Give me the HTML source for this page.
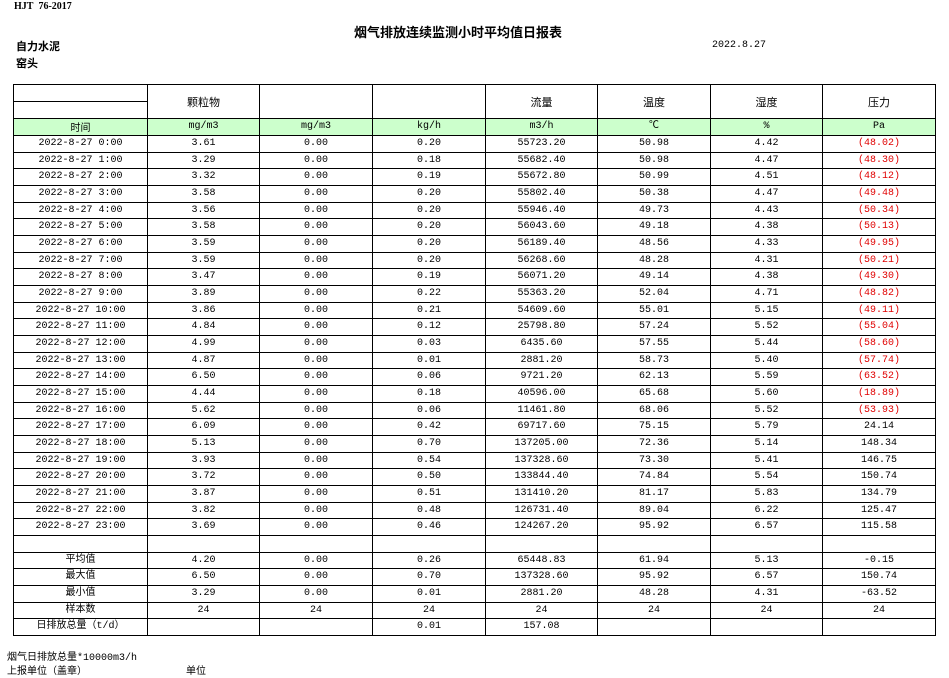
<!DOCTYPE html>
<html><head><meta charset="utf-8"><style>
body{margin:0;width:949px;height:676px;background:#fff;position:relative;overflow:hidden;font-family:"Liberation Mono","Noto Sans CJK SC",monospace;font-size:10px;color:#000}
.a{position:absolute;white-space:nowrap}
table{position:absolute;left:13px;top:84px;border-collapse:collapse;table-layout:fixed}
td{border:1px solid #000;padding:0;text-align:center;font-size:10px;line-height:10px;overflow:hidden;white-space:nowrap}
tr.g td{background:#ccffcc}
.r{color:#e00000}
.h td{font-family:"Noto Sans CJK SC",sans-serif;font-size:11px}
</style></head><body>
<div class="a" style="left:14px;top:1px;font-weight:bold;font-family:'Liberation Serif',serif;font-size:10px">HJT&nbsp;&nbsp;76-2017</div>
<div class="a" style="left:354px;top:22px;font-weight:bold;font-size:13px;font-family:'Noto Sans CJK SC',sans-serif">烟气排放连续监测小时平均值日报表</div>
<div class="a" style="left:16px;top:38px;font-weight:bold;font-size:11px;font-family:'Noto Sans CJK SC',sans-serif">自力水泥</div>
<div class="a" style="left:16px;top:55px;font-weight:bold;font-size:11px;font-family:'Noto Sans CJK SC',sans-serif">窑头</div>
<div class="a" style="left:712px;top:40px">2022.8.27</div>
<table>
<colgroup><col style="width:134px"><col style="width:112px"><col style="width:113px"><col style="width:113px"><col style="width:112px"><col style="width:113px"><col style="width:112px"><col style="width:113px"></colgroup>
<tr class="h" style="height:17px"><td></td><td rowspan="2">颗粒物</td><td rowspan="2"></td><td rowspan="2"></td><td rowspan="2">流量</td><td rowspan="2">温度</td><td rowspan="2">湿度</td><td rowspan="2">压力</td></tr>
<tr style="height:17px"><td></td></tr>
<tr class="g" style="height:17px"><td style="font-family:'Noto Sans CJK SC',sans-serif">时间</td><td>mg/m3</td><td>mg/m3</td><td>kg/h</td><td>m3/h</td><td>℃</td><td>%</td><td>Pa</td></tr>
<tr style="height:17px"><td>2022-8-27 0:00</td><td>3.61</td><td>0.00</td><td>0.20</td><td>55723.20</td><td>50.98</td><td>4.42</td><td class="r">(48.02)</td></tr>
<tr style="height:16px"><td>2022-8-27 1:00</td><td>3.29</td><td>0.00</td><td>0.18</td><td>55682.40</td><td>50.98</td><td>4.47</td><td class="r">(48.30)</td></tr>
<tr style="height:17px"><td>2022-8-27 2:00</td><td>3.32</td><td>0.00</td><td>0.19</td><td>55672.80</td><td>50.99</td><td>4.51</td><td class="r">(48.12)</td></tr>
<tr style="height:17px"><td>2022-8-27 3:00</td><td>3.58</td><td>0.00</td><td>0.20</td><td>55802.40</td><td>50.38</td><td>4.47</td><td class="r">(49.48)</td></tr>
<tr style="height:16px"><td>2022-8-27 4:00</td><td>3.56</td><td>0.00</td><td>0.20</td><td>55946.40</td><td>49.73</td><td>4.43</td><td class="r">(50.34)</td></tr>
<tr style="height:17px"><td>2022-8-27 5:00</td><td>3.58</td><td>0.00</td><td>0.20</td><td>56043.60</td><td>49.18</td><td>4.38</td><td class="r">(50.13)</td></tr>
<tr style="height:17px"><td>2022-8-27 6:00</td><td>3.59</td><td>0.00</td><td>0.20</td><td>56189.40</td><td>48.56</td><td>4.33</td><td class="r">(49.95)</td></tr>
<tr style="height:16px"><td>2022-8-27 7:00</td><td>3.59</td><td>0.00</td><td>0.20</td><td>56268.60</td><td>48.28</td><td>4.31</td><td class="r">(50.21)</td></tr>
<tr style="height:17px"><td>2022-8-27 8:00</td><td>3.47</td><td>0.00</td><td>0.19</td><td>56071.20</td><td>49.14</td><td>4.38</td><td class="r">(49.30)</td></tr>
<tr style="height:17px"><td>2022-8-27 9:00</td><td>3.89</td><td>0.00</td><td>0.22</td><td>55363.20</td><td>52.04</td><td>4.71</td><td class="r">(48.82)</td></tr>
<tr style="height:16px"><td>2022-8-27 10:00</td><td>3.86</td><td>0.00</td><td>0.21</td><td>54609.60</td><td>55.01</td><td>5.15</td><td class="r">(49.11)</td></tr>
<tr style="height:17px"><td>2022-8-27 11:00</td><td>4.84</td><td>0.00</td><td>0.12</td><td>25798.80</td><td>57.24</td><td>5.52</td><td class="r">(55.04)</td></tr>
<tr style="height:17px"><td>2022-8-27 12:00</td><td>4.99</td><td>0.00</td><td>0.03</td><td>6435.60</td><td>57.55</td><td>5.44</td><td class="r">(58.60)</td></tr>
<tr style="height:16px"><td>2022-8-27 13:00</td><td>4.87</td><td>0.00</td><td>0.01</td><td>2881.20</td><td>58.73</td><td>5.40</td><td class="r">(57.74)</td></tr>
<tr style="height:17px"><td>2022-8-27 14:00</td><td>6.50</td><td>0.00</td><td>0.06</td><td>9721.20</td><td>62.13</td><td>5.59</td><td class="r">(63.52)</td></tr>
<tr style="height:17px"><td>2022-8-27 15:00</td><td>4.44</td><td>0.00</td><td>0.18</td><td>40596.00</td><td>65.68</td><td>5.60</td><td class="r">(18.89)</td></tr>
<tr style="height:16px"><td>2022-8-27 16:00</td><td>5.62</td><td>0.00</td><td>0.06</td><td>11461.80</td><td>68.06</td><td>5.52</td><td class="r">(53.93)</td></tr>
<tr style="height:17px"><td>2022-8-27 17:00</td><td>6.09</td><td>0.00</td><td>0.42</td><td>69717.60</td><td>75.15</td><td>5.79</td><td>24.14</td></tr>
<tr style="height:17px"><td>2022-8-27 18:00</td><td>5.13</td><td>0.00</td><td>0.70</td><td>137205.00</td><td>72.36</td><td>5.14</td><td>148.34</td></tr>
<tr style="height:16px"><td>2022-8-27 19:00</td><td>3.93</td><td>0.00</td><td>0.54</td><td>137328.60</td><td>73.30</td><td>5.41</td><td>146.75</td></tr>
<tr style="height:17px"><td>2022-8-27 20:00</td><td>3.72</td><td>0.00</td><td>0.50</td><td>133844.40</td><td>74.84</td><td>5.54</td><td>150.74</td></tr>
<tr style="height:17px"><td>2022-8-27 21:00</td><td>3.87</td><td>0.00</td><td>0.51</td><td>131410.20</td><td>81.17</td><td>5.83</td><td>134.79</td></tr>
<tr style="height:16px"><td>2022-8-27 22:00</td><td>3.82</td><td>0.00</td><td>0.48</td><td>126731.40</td><td>89.04</td><td>6.22</td><td>125.47</td></tr>
<tr style="height:17px"><td>2022-8-27 23:00</td><td>3.69</td><td>0.00</td><td>0.46</td><td>124267.20</td><td>95.92</td><td>6.57</td><td>115.58</td></tr>
<tr style="height:17px"><td></td><td></td><td></td><td></td><td></td><td></td><td></td><td></td></tr>
<tr style="height:16px"><td>平均值</td><td>4.20</td><td>0.00</td><td>0.26</td><td>65448.83</td><td>61.94</td><td>5.13</td><td>-0.15</td></tr>
<tr style="height:17px"><td>最大值</td><td>6.50</td><td>0.00</td><td>0.70</td><td>137328.60</td><td>95.92</td><td>6.57</td><td>150.74</td></tr>
<tr style="height:17px"><td>最小值</td><td>3.29</td><td>0.00</td><td>0.01</td><td>2881.20</td><td>48.28</td><td>4.31</td><td>-63.52</td></tr>
<tr style="height:16px"><td>样本数</td><td>24</td><td>24</td><td>24</td><td>24</td><td>24</td><td>24</td><td>24</td></tr>
<tr style="height:17px"><td>日排放总量（t/d）</td><td></td><td></td><td>0.01</td><td>157.08</td><td></td><td></td><td></td></tr>
</table>
<div class="a" style="left:7px;top:648px">烟气日排放总量*10000m3/h</div>
<div class="a" style="left:7px;top:662px">上报单位（盖章）</div>
<div class="a" style="left:186px;top:662px">单位</div>
</body></html>
